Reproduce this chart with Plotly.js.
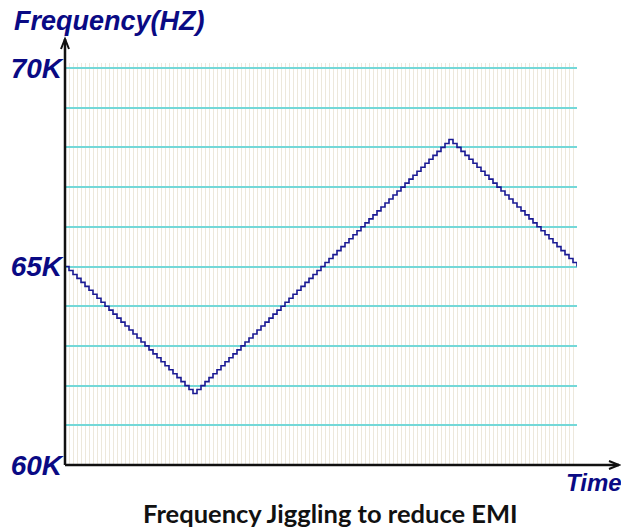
<!DOCTYPE html>
<html>
<head>
<meta charset="utf-8">
<script src="https://cdn.plot.ly/plotly-3.0.1.min.js"></script>
<style>html,body{margin:0;padding:0;background:#fff;}#chart{width:621px;height:531px;}</style>
</head>
<body>
<div id="chart"></div>
<script>
// Frequency (kHz) held at each time step (staircase)
var freqK = [
  65.0, 64.9, 64.8, 64.7, 64.6, 64.5, 64.4, 64.3, 64.2, 64.1,
  64.0, 63.9, 63.8, 63.7, 63.6, 63.5, 63.4, 63.3, 63.2, 63.1,
  63.0, 62.9, 62.8, 62.7, 62.6, 62.5, 62.4, 62.3, 62.2, 62.1,
  62.0, 61.9, 61.8,
  61.9, 62.0, 62.1, 62.2, 62.3, 62.4, 62.5, 62.6, 62.7, 62.8,
  62.9, 63.0, 63.1, 63.2, 63.3, 63.4, 63.5, 63.6, 63.7, 63.8,
  63.9, 64.0, 64.1, 64.2, 64.3, 64.4, 64.5, 64.6, 64.7, 64.8,
  64.9, 65.0, 65.1, 65.2, 65.3, 65.4, 65.5, 65.6, 65.7, 65.8,
  65.9, 66.0, 66.1, 66.2, 66.3, 66.4, 66.5, 66.6, 66.7, 66.8,
  66.9, 67.0, 67.1, 67.2, 67.3, 67.4, 67.5, 67.6, 67.7, 67.8,
  67.9, 68.0, 68.1, 68.2,
  68.1, 68.0, 67.9, 67.8, 67.7, 67.6, 67.5, 67.4, 67.3, 67.2,
  67.1, 67.0, 66.9, 66.8, 66.7, 66.6, 66.5, 66.4, 66.3, 66.2,
  66.1, 66.0, 65.9, 65.8, 65.7, 65.6, 65.5, 65.4, 65.3, 65.2,
  65.1, 65.0
];
var timeSteps = freqK.map(function(_, i){ return i; });

var yTickVals = [60, 61, 62, 63, 64, 65, 66, 67, 68, 69, 70];
var yTickText = ['60K', '', '', '', '', '65K', '', '', '', '', '70K'];

var yAxisTitle = 'Frequency(HZ)';
var xAxisTitle = 'Time';
var caption = 'Frequency Jiggling to reduce EMI';

var navy = '#0a0a84';

var trace = {
  x: timeSteps,
  y: freqK,
  type: 'scatter',
  mode: 'lines',
  line: {shape: 'hv', color: '#1a1a94', width: 1.6},
  hoverinfo: 'skip'
};

// arrow geometry in paper units (plot 512 x 402 px)
var pw = 512, ph = 402;
var yTip = (465 - 39) / ph;
var xTip = (619 - 65) / pw;

var layout = {
  width: 621,
  height: 531,
  margin: {l: 65, r: 44, t: 63, b: 66, pad: 0},
  paper_bgcolor: '#ffffff',
  plot_bgcolor: '#ffffff',
  showlegend: false,
  xaxis: {
    range: [0, timeSteps.length - 1],
    dtick: 1,
    tick0: 0,
    showgrid: true,
    gridcolor: '#ede8dc',
    gridwidth: 1,
    zeroline: false,
    showline: false,
    showticklabels: false,
    ticks: '',
    fixedrange: true
  },
  yaxis: {
    range: [60, 70.126],
    tickvals: yTickVals,
    ticktext: yTickText.map(function(t){ return t ? '<b><i>' + t + '</i></b>' : ''; }),
    showgrid: true,
    gridcolor: '#74d8d8',
    gridwidth: 2,
    zeroline: false,
    showline: false,
    ticks: '',
    ticklabelstandoff: 2,
    tickfont: {family: 'Liberation Sans, Arial, sans-serif', size: 28, color: navy, weight: 'bold', style: 'italic'},
    fixedrange: true
  },
  shapes: [
    {type: 'line', xref: 'paper', yref: 'paper', x0: 0, y0: 0, x1: 0, y1: yTip,
     line: {color: '#111111', width: 2.5}},
    {type: 'path', xref: 'paper', yref: 'paper',
     path: 'M ' + (-4/pw) + ',' + (yTip - 10/ph) + ' L 0,' + yTip + ' L ' + (4/pw) + ',' + (yTip - 10/ph),
     line: {color: '#111111', width: 2}},
    {type: 'line', xref: 'paper', yref: 'paper', x0: 0, y0: 0, x1: xTip, y1: 0,
     line: {color: '#111111', width: 2.5}},
    {type: 'path', xref: 'paper', yref: 'paper',
     path: 'M ' + (xTip - 10/pw) + ',' + (4/ph) + ' L ' + xTip + ',0 L ' + (xTip - 10/pw) + ',' + (-4/ph),
     line: {color: '#111111', width: 2}}
  ],
  annotations: [
    {text: '<b><i>' + yAxisTitle + '</i></b>', xref: 'paper', yref: 'paper',
     x: (12 - 65) / pw, y: (465 - 21) / ph, xanchor: 'left', yanchor: 'middle', showarrow: false,
     font: {family: 'Liberation Sans, Arial, sans-serif', size: 27, color: navy}},
    {text: '<b><i>' + xAxisTitle + '</i></b>', xref: 'paper', yref: 'paper',
     x: (564 - 65) / pw, y: (465 - 482) / ph, xanchor: 'left', yanchor: 'middle', showarrow: false,
     font: {family: 'Liberation Sans, Arial, sans-serif', size: 24, color: navy}},
    {text: '<b>' + caption + '</b>', xref: 'paper', yref: 'paper',
     x: (330 - 65) / pw, y: (465 - 513) / ph, xanchor: 'center', yanchor: 'middle', showarrow: false,
     font: {family: 'Lato, sans-serif', size: 25.5, color: '#111111'}}
  ]
};

Plotly.newPlot('chart', [trace], layout, {displayModeBar: false, staticPlot: true});
</script>
</body>
</html>
